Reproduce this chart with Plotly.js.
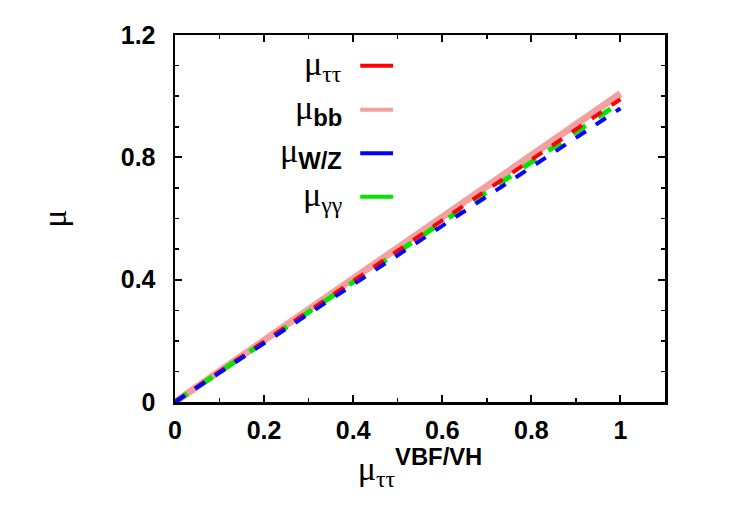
<!DOCTYPE html>
<html>
<head>
<meta charset="utf-8">
<script src="https://cdn.plot.ly/plotly-3.0.1.min.js"></script>
<style>html,body{margin:0;padding:0;background:#fff;}#plot{width:750px;height:525px;}</style>
</head>
<body>
<div id="plot"></div>
<script>
// Signal strengths versus mu_tautau (VBF/VH)
const muVbf   = [0, 0.1, 0.2, 0.3, 0.4, 0.5, 0.6, 0.7, 0.8, 0.9, 1.0];
const muBB    = [0, 0.101, 0.202, 0.303, 0.404, 0.505, 0.606, 0.707, 0.808, 0.909, 1.008];
const muTauTau= [0, 0.099, 0.198, 0.297, 0.396, 0.495, 0.594, 0.693, 0.792, 0.891, 0.99];
const muGamGam= [0, 0.098, 0.196, 0.294, 0.392, 0.49, 0.588, 0.686, 0.784, 0.882, 0.98];
const muWZ    = [0, 0.096, 0.192, 0.288, 0.384, 0.48, 0.576, 0.672, 0.768, 0.864, 0.96];

const xTicks = [0, 0.2, 0.4, 0.6, 0.8, 1];
const xTickText = ['<b>0</b>', '<b>0.2</b>', '<b>0.4</b>', '<b>0.6</b>', '<b>0.8</b>', '<b>1</b>'];
const yTicks = [0, 0.4, 0.8, 1.2];
const yTickText = ['<b>0</b>', '<b>0.4</b>', '<b>0.8</b>', '<b>1.2</b>'];

const serif = 'Liberation Serif';
const sans = 'Liberation Sans';
const g = s => '<span style="font-family:' + serif + '">' + s + '</span>';
const b = s => '<span style="font-family:' + sans + '"><b>' + s + '</b></span>';

const series = [
  {y: muBB, color: '#f4a0a0', width: 7, dash: 'solid'},
  {y: muGamGam, color: '#00e600', width: 5, dash: 'dash'},
  {y: muTauTau, color: '#ff0000', width: 4, dash: 'dash'},
  {y: muWZ, color: '#0000ff', width: 4, dash: 'dash'}
];

const traces = series.map(s => ({
  x: muVbf, y: s.y, type: 'scatter', mode: 'lines',
  line: {color: s.color, width: s.width, dash: s.dash},
  showlegend: false, hoverinfo: 'skip'
}));

// Key: label on the left, line sample on the right
const key = [
  {label: g('μ') + '<sub>' + g('ττ') + '</sub>', color: '#ff0000'},
  {label: g('μ') + '<sub>' + b('bb') + '</sub>', color: '#f4a0a0'},
  {label: g('μ') + '<sub>' + b('W/Z') + '</sub>', color: '#0000ff'},
  {label: g('μ') + '<sub>' + g('γγ') + '</sub>', color: '#00e600'}
];
const keyY = [0.916, 0.796, 0.678, 0.559];
const annotations = key.map((k, i) => ({
  xref: 'paper', yref: 'paper', x: 0.345, y: keyY[i],
  xanchor: 'right', yanchor: 'middle', showarrow: false,
  text: k.label, font: {size: 34, color: '#000', family: serif}
}));
const shapes = key.map((k, i) => ({
  type: 'line', xref: 'paper', yref: 'paper',
  x0: 0.378, x1: 0.445, y0: keyY[i], y1: keyY[i],
  line: {color: k.color, width: 4}
}));

const axisCommon = {
  showgrid: false, zeroline: false, showline: true, mirror: 'ticks',
  linecolor: '#000', linewidth: 2.5, ticks: 'inside', ticklen: 7,
  tickwidth: 2, tickcolor: '#000',
  tickfont: {family: sans, size: 25, color: '#000'},
  minor: {ticks: 'inside', ticklen: 4, tickwidth: 1.5, tickcolor: '#000', dtick: 0.1}
};

const layout = {
  width: 750, height: 525,
  margin: {l: 175, r: 85, t: 35, b: 123},
  paper_bgcolor: '#fff', plot_bgcolor: '#fff',
  xaxis: Object.assign({}, axisCommon, {
    range: [0, 1.1], tickvals: xTicks, ticktext: xTickText,
    ticklabelstandoff: 4,
    title: {text: g('μ') + '<sub>' + g('ττ') + '</sub><sup>' + b('VBF/VH') + '</sup>',
            font: {family: serif, size: 34, color: '#000'}, standoff: 9}
  }),
  yaxis: Object.assign({}, axisCommon, {
    range: [0, 1.2], tickvals: yTicks, ticktext: yTickText,
    ticklabelstandoff: 12,
    title: {text: g('μ'), font: {family: serif, size: 34, color: '#000'}, standoff: 44}
  }),
  annotations: annotations,
  shapes: shapes
};

Plotly.newPlot('plot', traces, layout, {staticPlot: true});
</script>
</body>
</html>
